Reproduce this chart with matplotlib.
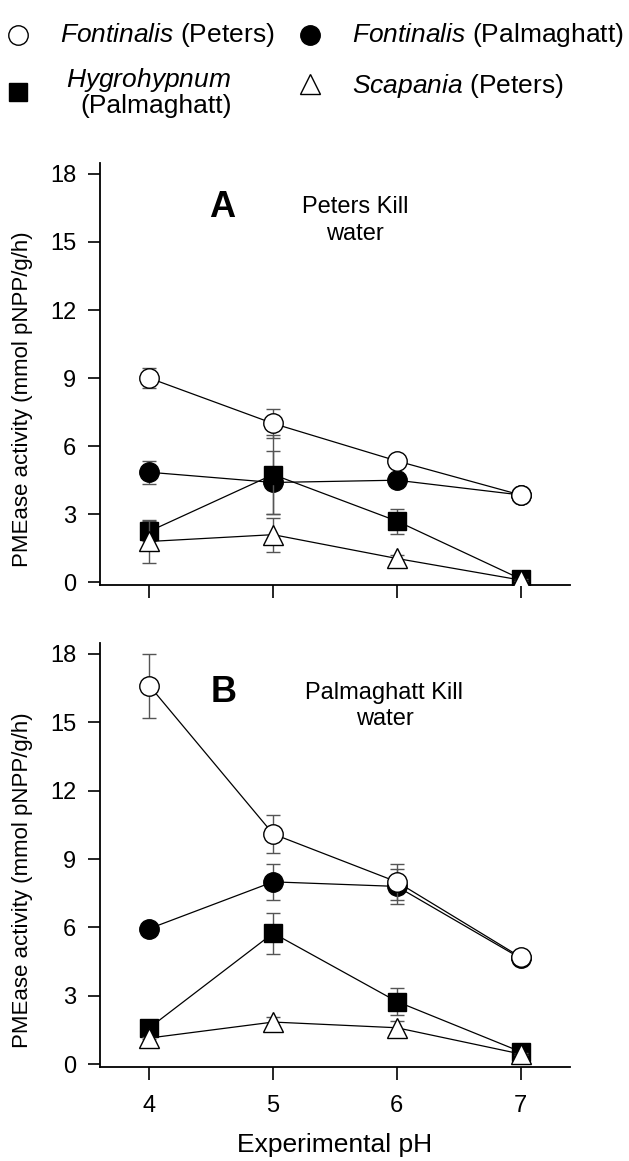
import matplotlib
matplotlib.use("Agg")
import matplotlib.pyplot as plt
from matplotlib.lines import Line2D

plt.rcParams['font.family'] = ['Liberation Sans', 'DejaVu Sans']
plt.rcParams['mathtext.fontset'] = 'custom'
plt.rcParams['mathtext.rm'] = 'Liberation Sans'
plt.rcParams['mathtext.it'] = 'Liberation Sans:italic'

ph = [4, 5, 6, 7]

# Panel A - Peters Kill water
a_font_pet = [9.0, 7.0, 5.35, 3.85]
a_font_pet_err = [0.45, 0.65, 0.1, 0.1]
a_font_pal = [4.85, 4.4, 4.5, 3.85]
a_font_pal_err = [0.5, 1.4, 0.1, 0.1]
a_hygro = [2.25, 4.75, 2.7, 0.15]
a_hygro_err = [0.45, 1.75, 0.55, 0.05]
a_scap = [1.8, 2.1, 1.05, 0.1]
a_scap_err = [0.95, 0.75, 0.15, 0.05]

# Panel B - Palmaghatt Kill water
b_font_pet = [16.6, 10.1, 8.0, 4.7]
b_font_pet_err = [1.4, 0.85, 0.8, 0.1]
b_font_pal = [5.95, 8.0, 7.8, 4.65]
b_font_pal_err = [0.1, 0.8, 0.75, 0.1]
b_hygro = [1.6, 5.75, 2.75, 0.55]
b_hygro_err = [0.1, 0.9, 0.6, 0.05]
b_scap = [1.15, 1.85, 1.6, 0.45]
b_scap_err = [0.05, 0.2, 0.3, 0.05]

fig = plt.figure(figsize=(6.29, 11.61), dpi=100)
axA = fig.add_axes([100/629, 0.4961, 470/629, 0.3635])
axB = fig.add_axes([100/629, 0.081, 470/629, 0.3652])

styles = [
    # marker, face, size, zorder
    ('o', 'black', 14, 2),
    ('s', 'black', 12.5, 3),
    ('^', 'white', 14.5, 4),
    ('o', 'white', 14, 5),
]

def draw_panel(ax, series):
    for (vals, errs), (mk, fc, ms, zo) in zip(series, styles):
        ax.errorbar(ph, vals, yerr=errs, fmt='-', color='black', lw=0.9,
                    marker=mk, mfc=fc, mec='black', mew=1.0, ms=ms,
                    ecolor='#555555', elinewidth=1.0, capsize=4.7, capthick=1.3,
                    zorder=zo)
    ax.set_xlim(3.6, 7.4)
    ax.set_ylim(-0.12, 18.48)
    ax.set_xticks(ph)
    ax.set_yticks([0, 3, 6, 9, 12, 15, 18])
    for s in ['top', 'right']:
        ax.spines[s].set_visible(False)
    for s in ['left', 'bottom']:
        ax.spines[s].set_linewidth(1.3)
    ax.tick_params(direction='out', length=9, width=1.2, labelsize=17, pad=8)
    ax.tick_params(axis='x', pad=11)
    ax.set_ylabel('PMEase activity (mmol pNPP/g/h)', fontsize=16)
    ax.yaxis.set_label_coords(-0.142, 0.44)

draw_panel(axA, [(a_font_pal, a_font_pal_err), (a_hygro, a_hygro_err),
                 (a_scap, a_scap_err), (a_font_pet, a_font_pet_err)])
draw_panel(axB, [(b_font_pal, b_font_pal_err), (b_hygro, b_hygro_err),
                 (b_scap, b_scap_err), (b_font_pet, b_font_pet_err)])

axA.tick_params(axis='x', labelbottom=False)
axB.set_xlabel('Experimental pH', fontsize=19, labelpad=12)

axA.text(4.59, 16.5, 'A', fontsize=26, fontweight='bold', ha='center', va='center')
axA.text(5.66, 15.95, 'Peters Kill\nwater', fontsize=17, ha='center', va='center',
         linespacing=1.25)
axB.text(4.6, 16.3, 'B', fontsize=26, fontweight='bold', ha='center', va='center')
axB.text(5.9, 15.7, 'Palmaghatt Kill\nwater', fontsize=17, ha='center', va='center',
         linespacing=1.25)

# legend drawn by hand at the top
leg = [
    ('o', 'white', 14, 18, 35, r'$\mathit{Fontinalis}$ (Peters)', 60, 35),
    ('o', 'black', 14, 310, 35, r'$\mathit{Fontinalis}$ (Palmaghatt)', 352, 35),
    ('s', 'black', 12.5, 18, 92, r'$\mathit{Hygrohypnum}$', 66, 80),
    ('^', 'white', 14.5, 310, 84, r'$\mathit{Scapania}$ (Peters)', 352, 86),
]
W, H = 629, 1161
for mk, fc, ms, mx, my, lab, tx, ty in leg:
    fig.add_artist(Line2D([mx / W], [1 - my / H], transform=fig.transFigure,
                          marker=mk, mfc=fc, mec='black', mew=1.0, ms=ms, ls='none'))
    fig.text(tx / W, 1 - ty / H, lab, fontsize=19, ha='left', va='center')
fig.text(80 / W, 1 - 106 / H, '(Palmaghatt)', fontsize=19, ha='left', va='center')

fig.savefig('out.png', dpi=100)
